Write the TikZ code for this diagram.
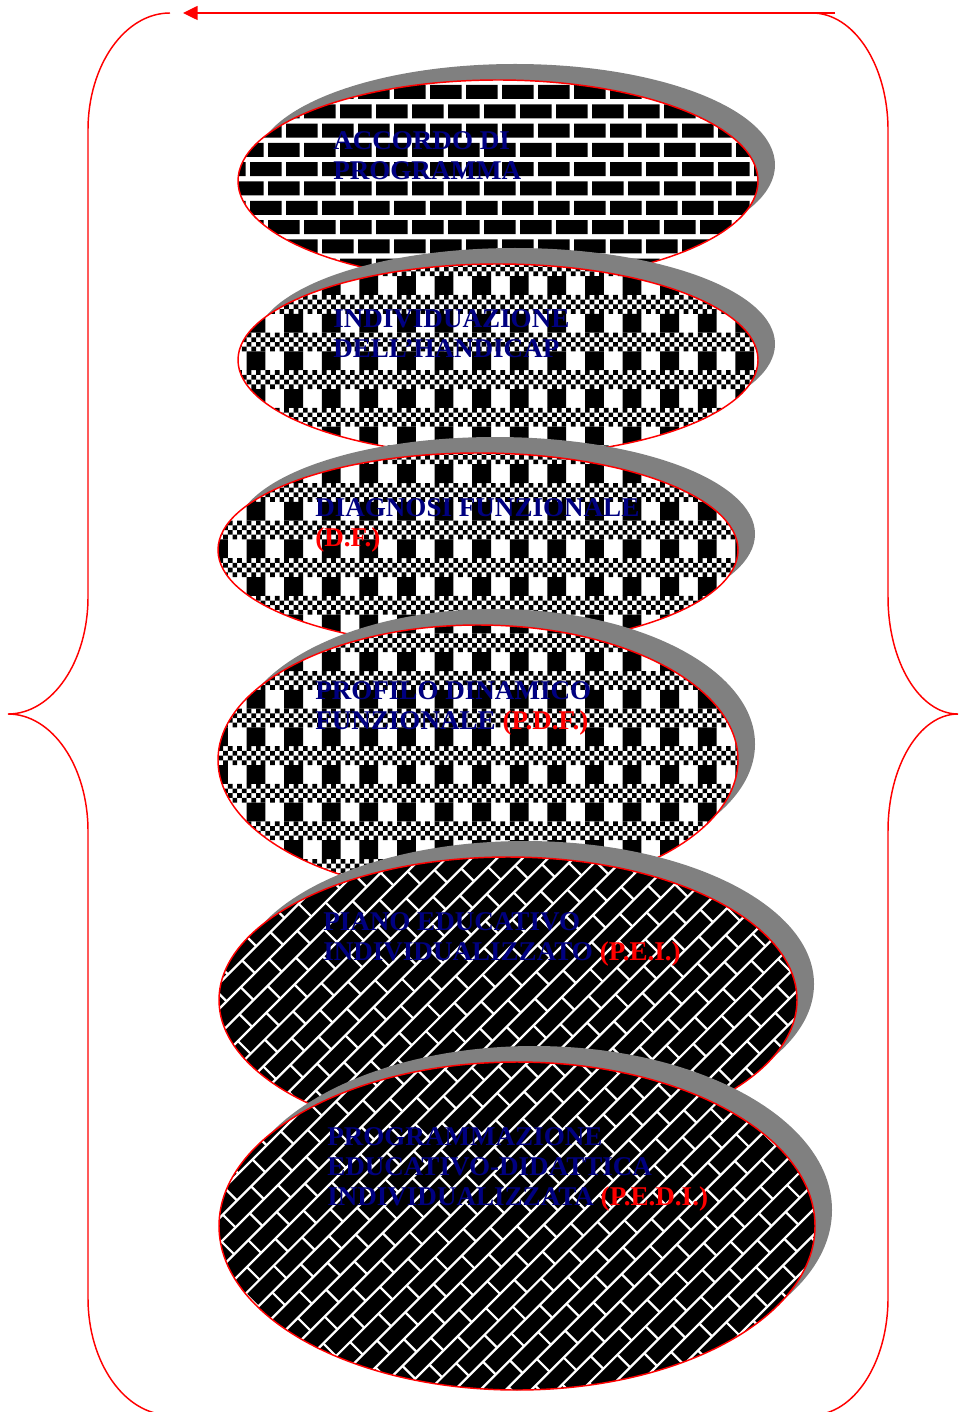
\documentclass[tikz,border=0pt]{standalone}
\usepackage{fontspec}
\setmainfont{Liberation Serif}
\usetikzlibrary{arrows.meta,shapes.geometric}
\definecolor{navyblue}{RGB}{0,0,128}
\definecolor{shadowgray}{RGB}{128,128,128}
\newcommand{\drawshadow}[4]{\fill[shadowgray] ({#1+17},{#2-16}) ellipse [x radius=#3, y radius=#4];}
\newcommand{\brickfill}{%
  \fill[white] (200,50) rectangle (800,300);
  \foreach \k in {0,...,11} {%
    \pgfmathsetmacro\brY{65.7+19.3*\k}
    \pgfmathsetmacro\brX{16-18*mod(\k,2)}
    \fill[black] \foreach \c in {6,...,21} {({\brX+36*\c},\brY) rectangle ++(31.5,14)};
  }}
\newcommand{\checkfill}[2]{%
  \fill[white] (150,200) rectangle (820,950);
  \foreach \j in {#1,...,#2} {%
    \pgfmathsetmacro\bandtop{577+37.6*\j}
    \fill[black] \foreach \c in {0,...,16} {({171.4+37.6*\c},\bandtop) rectangle ++(18.8,18.8)};
    \foreach \r in {0,...,3} {%
      \pgfmathsetmacro\chY{\bandtop+18.8+4.7*\r}
      \pgfmathsetmacro\chX{171.4+4.7*mod(\r,2)}
      \fill[black] \foreach \i in {0,...,63} {({\chX+9.4*\i},\chY) rectangle ++(4.7,4.7)};
    }
  }}
\newcommand{\diagfill}[2]{%
  \fill[black] ({#1-330},{#2-200}) rectangle ({#1+330},{#2+200});
  \begin{scope}[shift={(#1,#2)}, rotate=45]
    \foreach \j in {-22,...,22} {\draw[diagline] (-400,{18*\j}) -- (400,{18*\j});}
    \foreach \j in {-22,...,21} {%
      \pgfmathsetmacro\dof{20*mod(\j+40,2)}
      \foreach \i in {-10,...,10} {\draw[diagline] ({\dof+40*\i},{18*\j}) -- ++(0,18);}
    }
  \end{scope}}
\begin{document}
\begin{tikzpicture}[x=0.75pt,y=-0.75pt,
  rim/.style={ellipse, draw=red, line width=1.1pt, inner sep=0pt, outer sep=0pt},
  lbl/.style={anchor=north west, inner sep=0pt, align=left, text=navyblue,
              font=\fontsize{20.3}{22.6}\selectfont\bfseries},
  bracepath/.style={draw=red, line width=1.1pt},
  diagline/.style={white, line width=1.7pt},
  ]
\useasboundingbox (0,0) rectangle (961,1412);
\clip (0,0) rectangle (961,1412);

% ---- Ellipse 1
\drawshadow{498}{181}{260}{101}
\begin{scope}
  \clip (498,181) ellipse [x radius=260, y radius=101];
  \brickfill
\end{scope}
\node[rim, minimum width={1.5*260pt}, minimum height={1.5*101pt}] (e1) at (498,181) {};

% ---- Ellipse 2
\drawshadow{498}{360}{260}{96}
\begin{scope}
  \clip (498,360) ellipse [x radius=260, y radius=96];
  \checkfill{-9}{-4}
\end{scope}
\node[rim, minimum width={1.5*260pt}, minimum height={1.5*96pt}] (e2) at (498,360) {};

% ---- Ellipse 3
\drawshadow{478}{550}{260}{97}
\begin{scope}
  \clip (478,550) ellipse [x radius=260, y radius=97];
  \checkfill{-4}{1}
\end{scope}
\node[rim, minimum width={1.5*260pt}, minimum height={1.5*97pt}] (e3) at (478,550) {};

% ---- Ellipse 4
\drawshadow{478}{760}{260}{135}
\begin{scope}
  \clip (478,760) ellipse [x radius=260, y radius=135];
  \checkfill{1}{8}
\end{scope}
\node[rim, minimum width={1.5*260pt}, minimum height={1.5*135pt}] (e4) at (478,760) {};

% ---- Ellipse 5
\drawshadow{508}{1000}{289}{143}
\begin{scope}
  \clip (508,1000) ellipse [x radius=289, y radius=143];
  \diagfill{508}{1000}
\end{scope}
\node[rim, minimum width={1.5*289pt}, minimum height={1.5*143pt}] (e5) at (508,1000) {};

% ---- Ellipse 6
\drawshadow{517}{1226}{298}{164}
\begin{scope}
  \clip (517,1226) ellipse [x radius=298, y radius=164];
  \diagfill{517}{1226}
\end{scope}
\node[rim, minimum width={1.5*298pt}, minimum height={1.5*164pt}] (e6) at (517,1226) {};

% ---- Labels
\node[lbl] (t1) at (333,131) {ACCORDO DI\\PROGRAMMA};
\node[lbl] (t2) at (333,309) {INDIVIDUAZIONE\\DELL'HANDICAP};
\node[lbl] (t3) at (315,498) {DIAGNOSI FUNZIONALE\\\textcolor{red}{(D.F.)}};
\node[lbl] (t4) at (315,681) {PROFILO DINAMICO\\FUNZIONALE \textcolor{red}{(P.D.F.)}};
\node[lbl] (t5) at (323,912) {PIANO EDUCATIVO\\INDIVIDUALIZZATO \textcolor{red}{(P.E.I.)}};
\node[lbl] (t6) at (327,1127) {PROGRAMMAZIONE\\EDUCATIVO-DIDATTICA\\INDIVIDUALIZZATA \textcolor{red}{(P.E.D.I.)}};

% ---- Braces
\coordinate (lb0) at (170,13);
\coordinate (lb1) at (88,130);
\coordinate (lb2) at (88,597);
\coordinate (lbt) at (8,714);
\coordinate (lb3) at (88,831);
\coordinate (lb4) at (88,1298);
\coordinate (lb5) at (170,1415);
\draw[bracepath] (lb0) .. controls (124.7,13) and (88,65.4) .. (lb1) -- (lb2)
  .. controls (88,661.6) and (52.2,714) .. (lbt)
  .. controls (52.2,714) and (88,766.4) .. (lb3) -- (lb4)
  .. controls (88,1362.6) and (124.7,1415) .. (lb5);

\coordinate (rb0) at (812,13);
\coordinate (rb1) at (888,130);
\coordinate (rb2) at (888,597);
\coordinate (rbt) at (958,714);
\coordinate (rb3) at (888,831);
\coordinate (rb4) at (888,1298);
\coordinate (rb5) at (812,1415);
\draw[bracepath] (rb0) .. controls (854,13) and (888,65.4) .. (rb1) -- (rb2)
  .. controls (888,661.6) and (919.4,714) .. (rbt)
  .. controls (919.4,714) and (888,766.4) .. (rb3) -- (rb4)
  .. controls (888,1362.6) and (854,1415) .. (rb5);

% ---- Arrow
\coordinate (aS) at (835,13);
\coordinate (aE) at (183,13);
\draw[red, line width=1.1pt, -{Triangle[length=11pt, width=10.5pt]}] (aS) -- (aE);
\end{tikzpicture}
\end{document}
